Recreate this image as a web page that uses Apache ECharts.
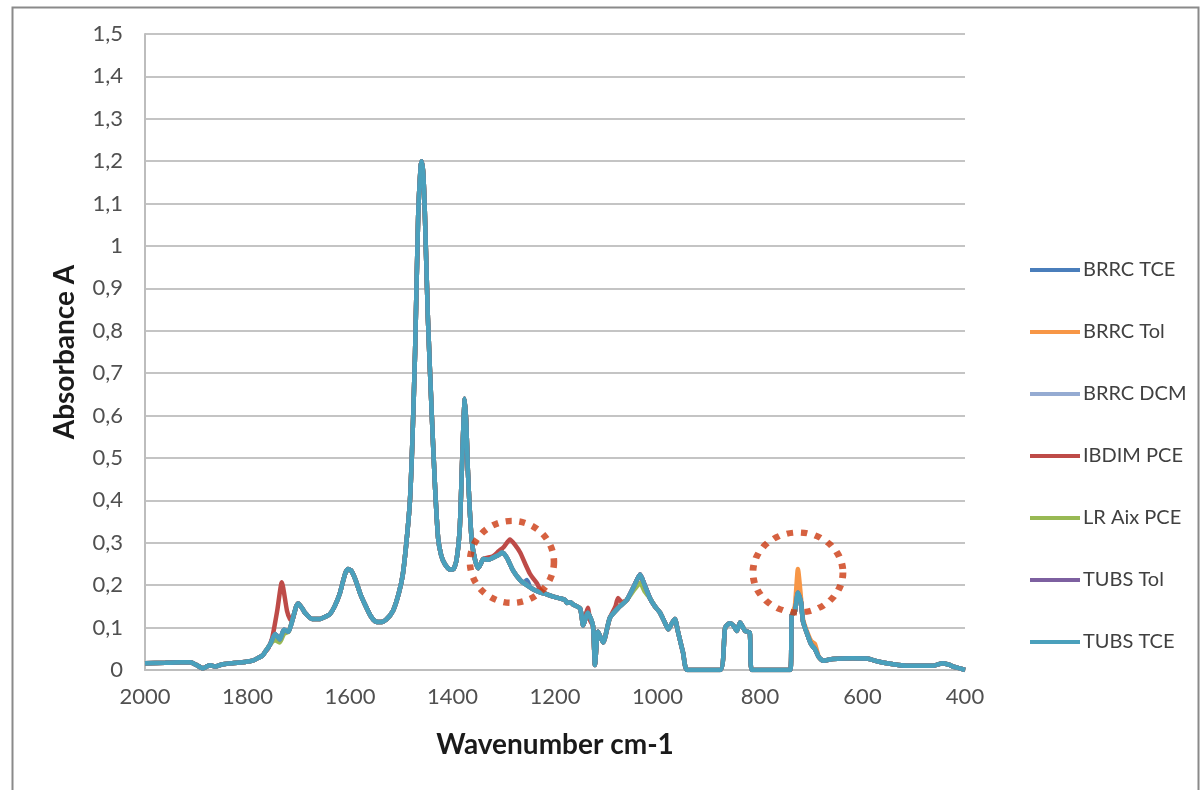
<!DOCTYPE html>
<html>
<head>
<meta charset="utf-8">
<script src="https://cdn.jsdelivr.net/npm/echarts@6/dist/echarts.min.js"></script>
<style>
html,body{margin:0;padding:0;background:#fff;}
#chart{width:1201px;height:790px;}
</style>
</head>
<body>
<div id="chart"></div>
<script>
// ---- data ----
const seriesNames = ['BRRC TCE','BRRC Tol','BRRC DCM','IBDIM PCE','LR Aix PCE','TUBS Tol','TUBS TCE'];
const xTicks = [2000,1800,1600,1400,1200,1000,800,600,400];

// common spectrum (wavenumber cm-1, absorbance)
const baseWn = [2000,1960,1930,1912,1900,1887,1880,1873,1863,1850,1830,1805,1790,1780,1770,1766,1756,1746,1737,1729,1720,1713,1705,1701,1693,1688,1674,1660,1649,1639,1630,1620,1610,1604,1598,1590,1580,1571,1560,1551,1540,1530,1516,1505,1497,1490,1483,1478,1473,1467,1462,1460,1457,1454,1448,1440,1434,1428,1422,1415,1405,1398,1392,1386,1381,1378,1376,1373,1370,1366,1362,1356,1350,1345,1340,1330,1321,1312,1303,1294,1282,1268,1255,1242,1229,1215,1204,1190,1180,1177,1170,1165,1151,1145,1136,1126,1122,1116,1106,1093,1077,1060,1045,1034,1025,1015,1005,995,985,979,972,966,960,950,942,878,868,859,852,845,839,829,820,816,741,738,732,726,720,716,708,700,693,685,677,658,620,591,570,552,530,513,480,462,443,430,423,410,400];
const baseAbs = [0.016,0.017,0.018,0.018,0.012,0.004,0.008,0.011,0.008,0.013,0.016,0.019,0.022,0.028,0.035,0.042,0.06,0.085,0.072,0.095,0.09,0.115,0.15,0.157,0.145,0.135,0.12,0.12,0.125,0.132,0.15,0.18,0.225,0.238,0.235,0.215,0.18,0.155,0.128,0.115,0.113,0.118,0.14,0.18,0.225,0.3,0.4,0.55,0.75,1.07,1.19,1.2,1.17,1.08,0.83,0.59,0.43,0.31,0.27,0.25,0.237,0.238,0.26,0.33,0.5,0.6,0.64,0.58,0.47,0.37,0.3,0.26,0.24,0.25,0.262,0.26,0.265,0.27,0.277,0.265,0.235,0.212,0.2,0.19,0.183,0.178,0.173,0.169,0.165,0.158,0.16,0.155,0.145,0.105,0.135,0.105,0.012,0.09,0.065,0.123,0.146,0.165,0.2,0.225,0.2,0.17,0.15,0.135,0.11,0.096,0.11,0.12,0.09,0.04,0,0,0.1,0.11,0.105,0.092,0.112,0.092,0.088,0,0,0.13,0.137,0.182,0.16,0.114,0.085,0.06,0.05,0.03,0.022,0.026,0.028,0.027,0.02,0.016,0.012,0.01,0.01,0.01,0.016,0.012,0.008,0.004,0];

// segments where individual samples differ from the common spectrum
const brrcTceWn = [1262,1255,1248];
const brrcTceAbs = [0.205,0.212,0.195];
const brrcTolWn = [741,738,732,726,720,716,708,700,693,685];
const brrcTolAbs = [0,0.13,0.15,0.238,0.17,0.12,0.09,0.068,0.062,0.03];
const ibdimWn1 = [1766,1760,1752,1742,1733,1723,1717,1713];
const ibdimAbs1 = [0.042,0.05,0.075,0.14,0.207,0.14,0.12,0.118];
const ibdimWn2 = [1340,1321,1310,1300,1288,1278,1268,1258,1249,1242,1235,1229];
const ibdimAbs2 = [0.262,0.268,0.28,0.29,0.308,0.295,0.277,0.25,0.227,0.215,0.204,0.19];
const ibdimWn3 = [1139,1136,1131];
const ibdimAbs3 = [0.135,0.147,0.115];
const ibdimWn4 = [1082,1077,1070];
const ibdimAbs4 = [0.15,0.17,0.16];
const lrAixWn1 = [1746,1737,1729];
const lrAixAbs1 = [0.07,0.065,0.085];
const lrAixWn2 = [1045,1034,1025];
const lrAixAbs2 = [0.19,0.205,0.185];

// highlighted regions (dotted circles), in data coordinates
const highlightWn = [1284,726];
const highlightAbs = [0.255,0.23];

// ---- build ----
function pairs(wn, ab){ return wn.map((w,i)=>[w,ab[i]]); }
function withSegment(pts, segWn, segAbs){
  const lo = Math.min(...segWn), hi = Math.max(...segWn);
  const out = pts.filter(p => p[0] < lo || p[0] > hi);
  segWn.forEach((w,i)=>out.push([w,segAbs[i]]));
  return out.sort((a,b)=>b[0]-a[0]);
}
const base = pairs(baseWn, baseAbs);
const seriesData = {
  'BRRC TCE': withSegment(base, brrcTceWn, brrcTceAbs),
  'BRRC Tol': withSegment(base, brrcTolWn, brrcTolAbs),
  'BRRC DCM': base,
  'IBDIM PCE': withSegment(withSegment(withSegment(withSegment(base, ibdimWn1, ibdimAbs1), ibdimWn2, ibdimAbs2), ibdimWn3, ibdimAbs3), ibdimWn4, ibdimAbs4),
  'LR Aix PCE': withSegment(withSegment(base, lrAixWn1, lrAixAbs1), lrAixWn2, lrAixAbs2),
  'TUBS Tol': base,
  'TUBS TCE': base
};
const colors = {
  'BRRC TCE':'#4A7EBB','BRRC Tol':'#F79646','BRRC DCM':'#95ABD2','IBDIM PCE':'#BE4B48',
  'LR Aix PCE':'#98B954','TUBS Tol':'#7D60A0','TUBS TCE':'#4AA0BC'
};

const chart = echarts.init(document.getElementById('chart'), null, {renderer:'canvas'});
const lineSeries = seriesNames.map(n => ({
  name: n, type: 'line', data: seriesData[n], showSymbol: false, symbol: 'none',
  smooth: 0.2, color: colors[n], lineStyle: {width: 4.5, color: colors[n]}, silent: true,
  animation: false
}));
lineSeries.push({
  name: 'highlight', type: 'scatter', silent: true, animation: false,
  data: highlightWn.map((w,i)=>[w, highlightAbs[i]]),
  symbol: 'circle',
  symbolSize: (v, p) => p.dataIndex === 0 ? [84, 82] : [90, 80],
  itemStyle: {color: 'rgba(0,0,0,0)', borderColor: '#CC3A10', borderWidth: 6.5, borderType: [6, 7.5]},
  z: 10
});

chart.setOption({
  animation: false,
  backgroundColor: '#fff',
  textStyle: {fontFamily: 'Lato'},
  graphic: [{
    type: 'rect', left: 10, top: 5, shape: {width: 1186, height: 800},
    style: {fill: 'none', stroke: '#8a8a8a', lineWidth: 2}, silent: true
  }],
  grid: {left: 145, right: 236, top: 34, bottom: 120, containLabel: false},
  legend: {
    data: seriesNames, orient: 'vertical', left: 1025, top: 255,
    icon: 'rect', itemWidth: 50, itemHeight: 4, itemGap: 42,
    textStyle: {fontFamily: 'Lato', fontSize: 20, color: '#404040', padding: [0,0,0,-2]},
    selectedMode: false
  },
  xAxis: {
    type: 'value', inverse: true, min: 400, max: 2000, interval: 200,
    name: 'Wavenumber cm-1', nameLocation: 'middle', nameGap: 61,
    nameTextStyle: {fontFamily: 'Lato', fontSize: 28, fontWeight: 'bold', color: '#1a1a1a'},
    axisLine: {show: true, lineStyle: {color: '#bdbdbd', width: 2}},
    axisTick: {show: false},
    splitLine: {show: false},
    axisLabel: {fontSize: 22, color: '#505050', margin: 16, fontFamily: 'Lato',
      formatter: v => String(v)}
  },
  yAxis: {
    type: 'value', min: 0, max: 1.5, interval: 0.1,
    name: 'Absorbance A', nameLocation: 'middle', nameGap: 66,
    nameTextStyle: {fontFamily: 'Lato', fontSize: 28, fontWeight: 'bold', color: '#1a1a1a'},
    axisLine: {show: true, lineStyle: {color: '#bdbdbd', width: 2}},
    axisTick: {show: false},
    splitLine: {show: true, lineStyle: {color: '#c4c4c4', width: 2}},
    axisLabel: {
      fontSize: 22, color: '#505050', margin: 22, fontFamily: 'Lato',
      formatter: v => String(Math.round(v*10)/10).replace('.', ',')
    }
  },
  series: lineSeries
});
</script>
</body>
</html>
